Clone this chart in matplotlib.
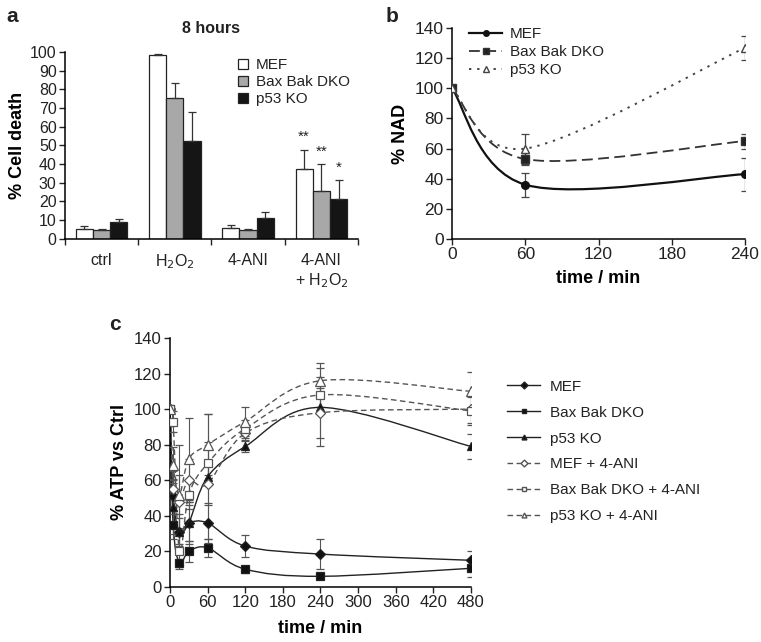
import numpy as np
import matplotlib
matplotlib.use("Agg")
import matplotlib.pyplot as plt
from matplotlib.path import Path
from matplotlib.patches import PathPatch
from matplotlib.lines import Line2D

plt.rcParams['font.family'] = ['Liberation Sans', 'DejaVu Sans']
plt.rcParams['font.size'] = 10
plt.rcParams['axes.linewidth'] = 1.1
plt.rcParams['text.color'] = '#222222'
plt.rcParams['xtick.color'] = '#222222'
plt.rcParams['ytick.color'] = '#222222'

# ---- panel a data ----
groups = ['ctrl', 'H$_2$O$_2$', '4-ANI', '4-ANI\n+ H$_2$O$_2$']
a_series = ['MEF', 'Bax Bak DKO', 'p53 KO']
a_mef = [5.3, 98.6, 5.9, 37.5]
a_mef_err = [1.4, 0.4, 1.3, 10.2]
a_dko = [4.5, 75.3, 4.8, 25.4]
a_dko_err = [0.7, 8.2, 0.7, 14.7]
a_p53 = [9.0, 52.3, 11.1, 21.3]
a_p53_err = [1.6, 15.6, 3.0, 10.2]
a_stars = ['**', '**', '*']

# ---- panel b data ----
b_time = [0, 60, 240]
b_mef = [100, 36, 43]
b_mef_err = [0, 8, 11]
b_dko = [100, 53, 65]
b_dko_err = [0, 4, 5]
b_p53 = [100, 60, 127]
b_p53_err = [0, 10, 8]

# ---- panel c data ----
c_time = [0, 5, 15, 30, 60, 120, 240, 480]
c_mef = [100, 51, 31, 36, 36, 23, 18.5, 15]
c_mef_err = [0, 10, 8, 10, 11, 6, 8.5, 5.5]
c_dko = [100, 35, 13.5, 20, 22, 10, 6, 10.5]
c_dko_err = [0, 8, 2, 6, 5, 2, 1, 5]
c_p53 = [100, 45, 31, 36, 62, 79, 101, 79]
c_p53_err = [0, 15, 10, 12, 35, 3, 22, 7]
c_mef_ani = [100, 55, 48, 60, 58, 86.5, 98, 100]
c_mef_ani_err = [0, 10, 15, 12, 12, 4, 14, 8]
c_dko_ani = [100, 93, 20, 52, 69.5, 89, 108, 99]
c_dko_ani_err = [0, 6, 10, 8, 12, 5, 10, 8]
c_p53_ani = [100, 68.5, 52, 72, 80, 93, 116, 110]
c_p53_ani_err = [0, 10, 28, 23, 17, 8, 10, 11]


def smooth_path(x, y):
    # Excel-like smoothed line: cubic Bezier segments through the data points
    pts = np.column_stack([x, y]).astype(float)
    n = len(pts)
    verts = [pts[0]]
    codes = [Path.MOVETO]
    for i in range(n - 1):
        p0 = pts[i - 1] if i > 0 else pts[i]
        p1 = pts[i]
        p2 = pts[i + 1]
        p3 = pts[i + 2] if i + 2 < n else pts[i + 1]
        c1 = p1 + (p2 - p0) / 6.0
        c2 = p2 - (p3 - p1) / 6.0
        verts += [c1, c2, p2]
        codes += [Path.CURVE4] * 3
    return Path(verts, codes)


def style_axes(ax, size):
    ax.spines['top'].set_visible(False)
    ax.spines['right'].set_visible(False)
    ax.tick_params(direction='out', length=4, width=1, labelsize=size, pad=2)


fig = plt.figure(figsize=(7.61, 6.42), dpi=100)

# ================= panel a =================
axa = fig.add_axes([0.0854, 0.628, 0.385, 0.291])
xg = np.arange(len(groups))
w = 0.235
colors = ['white', '#a8a8a8', '#151515']
vals = [a_mef, a_dko, a_p53]
errs = [a_mef_err, a_dko_err, a_p53_err]
for k in range(3):
    xpos = xg + (k - 1) * w
    axa.bar(xpos, vals[k], width=w, color=colors[k], edgecolor='#222222',
            linewidth=0.9, label=a_series[k], zorder=2)
    axa.errorbar(xpos, vals[k], yerr=[np.zeros(4), errs[k]], fmt='none',
                 ecolor='#333333', elinewidth=0.9, capsize=3, capthick=0.9, zorder=3)
for k in range(3):
    xs = xg[3] + (k - 1) * w
    top = vals[k][3] + errs[k][3]
    axa.text(xs, top + 3, a_stars[k], ha='center', va='bottom', fontsize=11)
axa.set_xlim(-0.5, 3.5)
axa.set_ylim(0, 100)
axa.set_yticks(np.arange(0, 101, 10))
axa.set_xticks(xg)
axa.set_xticklabels(groups, fontsize=12.5, linespacing=1.25)
axa.set_xticks(np.arange(-0.5, 3.6, 1), minor=True)
style_axes(axa, 11.5)
axa.tick_params(axis='x', which='major', length=0, pad=10)
axa.tick_params(axis='x', which='minor', direction='out', length=4, width=1)
axa.set_ylabel('% Cell death', fontweight='bold', fontsize=13, labelpad=3)
axa.set_title('8 hours', fontweight='bold', fontsize=11.5, pad=14)
axa.legend(loc='upper right', bbox_to_anchor=(1.02, 1.04), frameon=False,
           fontsize=11, handlelength=0.7, handleheight=0.7, handletextpad=0.5,
           labelspacing=0.2)
fig.text(0.008, 0.975, 'a', fontweight='bold', fontsize=15, va='center')

# ================= panel b =================
axb = fig.add_axes([0.594, 0.628, 0.385, 0.328])
b_sets = [
    (b_mef, b_mef_err, 'MEF', '-', 'o', '#111111', 1.6, '#111111'),
    (b_dko, b_dko_err, 'Bax Bak DKO', (0, (6, 3)), 's', '#333333', 1.3, '#222222'),
    (b_p53, b_p53_err, 'p53 KO', (0, (1.2, 3)), '^', '#444444', 1.4, 'white'),
]
b_handles = []
for yv, ye, lab, ls, mk, col, lw, mfc in b_sets:
    axb.add_patch(PathPatch(smooth_path(b_time, yv), fill=False, edgecolor=col,
                            linewidth=lw, linestyle=ls, zorder=2))
    axb.errorbar(b_time, yv, yerr=ye, fmt=mk, color=col, mfc=mfc, mec=col,
                 ms=5.5, elinewidth=0.9, ecolor='#444444', capsize=3, capthick=0.9, zorder=3)
    b_handles.append(Line2D([], [], color=col, linestyle=ls, linewidth=lw,
                            marker=mk, ms=4, mfc=mfc, mec=col))
axb.set_xlim(0, 240)
axb.set_ylim(0, 140)
axb.set_xticks(np.arange(0, 241, 60))
axb.set_yticks(np.arange(0, 141, 20))
style_axes(axb, 12.5)
axb.set_xlabel('time / min', fontweight='bold', fontsize=13, labelpad=6)
axb.set_ylabel('% NAD', fontweight='bold', fontsize=13, labelpad=4)
axb.legend(b_handles, [s[2] for s in b_sets], loc='upper left',
           bbox_to_anchor=(0.01, 1.07), frameon=False, fontsize=11,
           handlelength=2.2, handletextpad=0.5, labelspacing=0.25)
fig.text(0.507, 0.975, 'b', fontweight='bold', fontsize=15, va='center')

# ================= panel c =================
axc = fig.add_axes([0.2234, 0.0857, 0.3955, 0.3878])
c_sets = [
    (c_mef, c_mef_err, 'MEF', '-', 'D', '#222222', '#111111', 5),
    (c_dko, c_dko_err, 'Bax Bak DKO', '-', 's', '#222222', '#111111', 6),
    (c_p53, c_p53_err, 'p53 KO', '-', '^', '#222222', '#111111', 6),
    (c_mef_ani, c_mef_ani_err, 'MEF + 4-ANI', (0, (4, 2.5)), 'D', '#555555', 'white', 5),
    (c_dko_ani, c_dko_ani_err, 'Bax Bak DKO + 4-ANI', (0, (4, 2.5)), 's', '#555555', 'white', 6),
    (c_p53_ani, c_p53_ani_err, 'p53 KO + 4-ANI', (0, (4, 2.5)), '^', '#555555', 'white', 7),
]
c_handles = []
for yv, ye, lab, ls, mk, col, mfc, ms in c_sets:
    axc.add_patch(PathPatch(smooth_path(c_time, yv), fill=False, edgecolor=col,
                            linewidth=1.0, linestyle=ls, zorder=2))
    mec = '#222222' if mfc != 'white' else '#555555'
    axc.errorbar(c_time, yv, yerr=ye, fmt=mk, color=col, mfc=mfc, mec=mec,
                 ms=ms, mew=0.9, elinewidth=0.8, ecolor='#555555', capsize=3,
                 capthick=0.8, zorder=3)
    c_handles.append(Line2D([], [], color=col, linestyle=ls, linewidth=1.0,
                            marker=mk, ms=3.5, mfc=mfc, mec=mec))
axc.set_xlim(0, 480)
axc.set_ylim(0, 140)
axc.set_xticks(np.arange(0, 481, 60))
axc.set_yticks(np.arange(0, 141, 20))
style_axes(axc, 12)
axc.set_xlabel('time / min', fontweight='bold', fontsize=13, labelpad=7)
axc.set_ylabel('% ATP vs Ctrl', fontweight='bold', fontsize=13, labelpad=4)
fig.legend(c_handles, [s[2] for s in c_sets], loc='upper left',
           bbox_to_anchor=(0.648, 0.43), frameon=False, fontsize=11,
           handlelength=2.2, handletextpad=0.6, labelspacing=0.78)
fig.text(0.143, 0.494, 'c', fontweight='bold', fontsize=15, va='center')

fig.savefig('out.png', dpi=100)
